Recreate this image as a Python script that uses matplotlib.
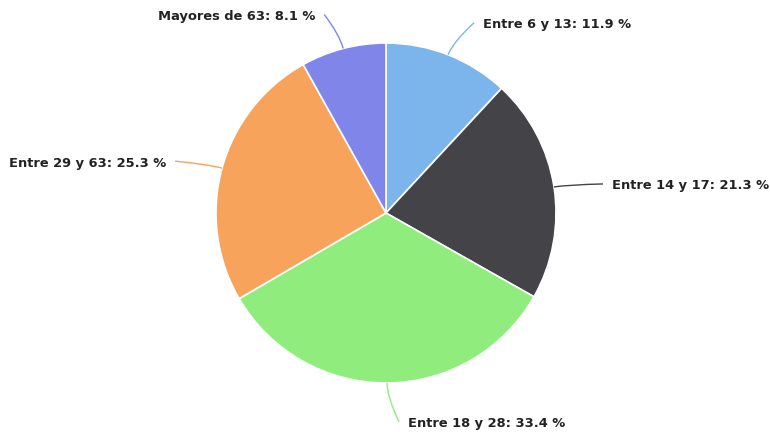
import numpy as np
import matplotlib
matplotlib.use("Agg")
import matplotlib.pyplot as plt
from matplotlib.path import Path
from matplotlib.patches import PathPatch

# Data
labels = ["Entre 6 y 13", "Entre 14 y 17", "Entre 18 y 28", "Entre 29 y 63", "Mayores de 63"]
shares = [11.9, 21.3, 33.4, 25.3, 8.1]
colors = ["#7cb5ec", "#434348", "#90ed7d", "#f7a35c", "#8085e9"]

# Layout (pixels, y up)
W, H = 770, 436
cx, cy, R = 386, 436 - 213, 170
# text anchor offset from slice edge point, and horizontal alignment
offsets = [(35, 30, "left"), (58, 1, "left"), (21, -41, "left"),
           (-56, 5, "right"), (-28, 32, "right")]

fig = plt.figure(figsize=(W / 100, H / 100), dpi=100)
ax = fig.add_axes([0, 0, 1, 1])

wedges, _ = ax.pie(shares, colors=colors, startangle=90, counterclock=False,
                   center=(cx, cy), radius=R, frame=True,
                   wedgeprops=dict(edgecolor="white", linewidth=1.2))
ax.set_xlim(0, W)
ax.set_ylim(0, H)
ax.axis("off")

for w, lab, val, col, (dx, dy, ha) in zip(wedges, labels, shares, colors, offsets):
    mid = np.deg2rad((w.theta1 + w.theta2) / 2.0)
    ex, ey = cx + R * np.cos(mid), cy + R * np.sin(mid)
    tx, ty = ex + dx, ey + dy
    gap = 9 if ha == "left" else -9
    endx, endy = tx - gap, ty + 2
    # soft connector: bezier from edge, heading radially out first
    cx1 = ex + 14 * np.cos(mid)
    cy1 = ey + 14 * np.sin(mid)
    path = Path([(ex, ey), (cx1, cy1), (endx, endy)],
                [Path.MOVETO, Path.CURVE3, Path.CURVE3])
    ax.add_patch(PathPatch(path, facecolor="none", edgecolor=col, linewidth=1))
    ax.text(tx, ty, f"{lab}: {val} %", ha=ha, va="center", fontsize=9.4,
            fontweight="bold", color="#222222")

fig.savefig("out.png", dpi=100, facecolor="white")
